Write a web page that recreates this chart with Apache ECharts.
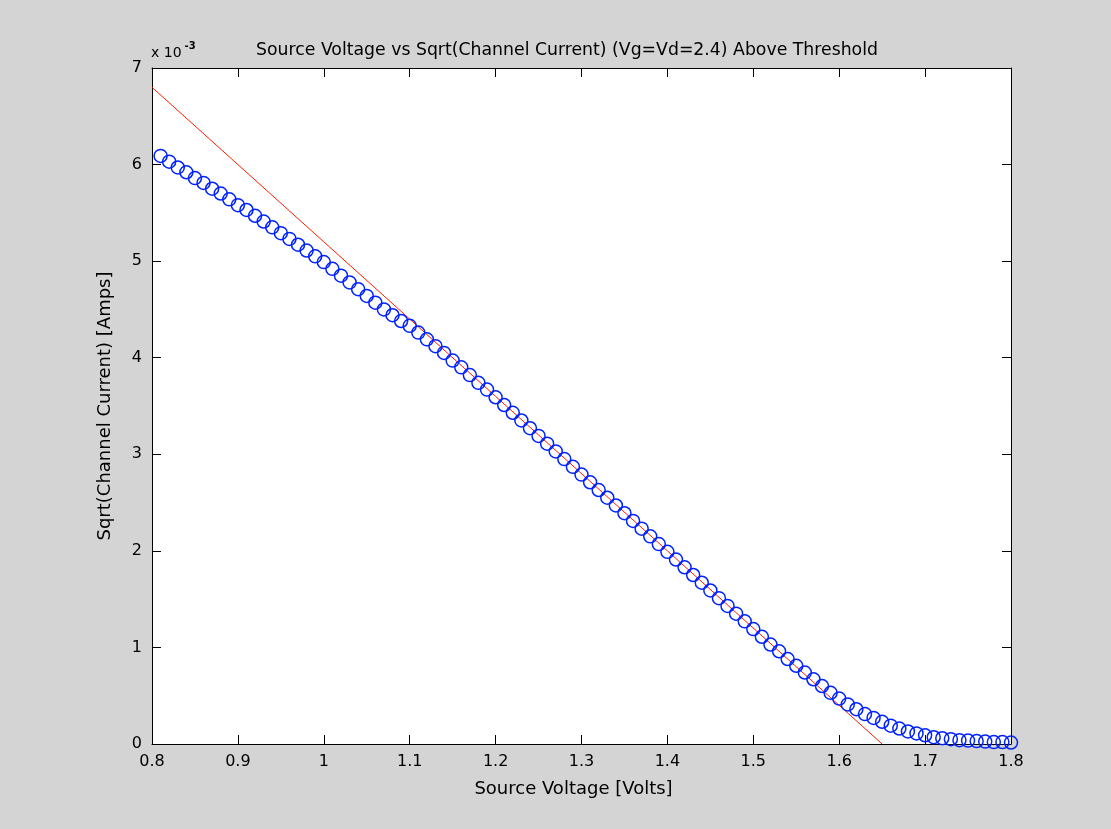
<!DOCTYPE html>
<html>
<head>
<meta charset="utf-8">
<script src="https://cdn.jsdelivr.net/npm/echarts@6/dist/echarts.min.js"></script>
<style>
  html, body { margin: 0; padding: 0; background: #d4d4d4; }
  #chart { width: 1111px; height: 829px; }
</style>
</head>
<body>
<div id="chart"></div>
<script>
// Source voltage (V)
const sourceVoltage = [
  0.81,0.82,0.83,0.84,0.85,0.86,0.87,0.88,0.89,0.90,
  0.91,0.92,0.93,0.94,0.95,0.96,0.97,0.98,0.99,1.00,
  1.01,1.02,1.03,1.04,1.05,1.06,1.07,1.08,1.09,1.10,
  1.11,1.12,1.13,1.14,1.15,1.16,1.17,1.18,1.19,1.20,
  1.21,1.22,1.23,1.24,1.25,1.26,1.27,1.28,1.29,1.30,
  1.31,1.32,1.33,1.34,1.35,1.36,1.37,1.38,1.39,1.40,
  1.41,1.42,1.43,1.44,1.45,1.46,1.47,1.48,1.49,1.50,
  1.51,1.52,1.53,1.54,1.55,1.56,1.57,1.58,1.59,1.60,
  1.61,1.62,1.63,1.64,1.65,1.66,1.67,1.68,1.69,1.70,
  1.71,1.72,1.73,1.74,1.75,1.76,1.77,1.78,1.79,1.80
];
// Sqrt(channel current), in units of 1e-3
const sqrtCurrent = [
  6.09,6.03,5.97,5.92,5.86,5.81,5.75,5.70,5.64,5.58,
  5.53,5.47,5.41,5.35,5.29,5.23,5.17,5.11,5.05,4.99,
  4.92,4.85,4.78,4.71,4.64,4.57,4.50,4.44,4.38,4.33,
  4.26,4.19,4.12,4.05,3.97,3.90,3.82,3.74,3.67,3.59,
  3.51,3.43,3.35,3.27,3.19,3.11,3.03,2.95,2.87,2.79,
  2.71,2.63,2.55,2.47,2.39,2.31,2.23,2.15,2.07,1.99,
  1.91,1.83,1.75,1.67,1.59,1.51,1.43,1.35,1.27,1.19,
  1.11,1.03,0.96,0.88,0.81,0.74,0.67,0.60,0.53,0.47,
  0.41,0.36,0.31,0.27,0.23,0.19,0.16,0.13,0.11,0.09,
  0.07,0.06,0.05,0.04,0.035,0.03,0.025,0.02,0.02,0.015
];
// Linear fit line (units of 1e-3)
const fitVoltage = [0.80, 1.00, 1.20, 1.40, 1.60, 1.65];
const fitCurrent = [6.80, 5.20, 3.60, 2.00, 0.40, 0.00];

const titleText = 'Source Voltage vs Sqrt(Channel Current) (Vg=Vd=2.4) Above Threshold';
const xLabel = 'Source Voltage [Volts]';
const yLabel = 'Sqrt(Channel Current) [Amps]';

const FONT = 'DejaVu Sans';
const GL = 152, GT = 68, GW = 859, GH = 676;

const chart = echarts.init(document.getElementById('chart'), null, { renderer: 'canvas' });

const baseX = { min: 0.8, max: 1.8, interval: 0.1, splitLine: { show: false } };
const baseY = { min: 0, max: 7, interval: 1, splitLine: { show: false } };
const axLine = { show: true, onZero: false, lineStyle: { color: '#000', width: 1 } };
const tick = { show: true, inside: true, length: 9, lineStyle: { color: '#000', width: 1 } };

chart.setOption({
  backgroundColor: '#d4d4d4',
  animation: false,
  title: {
    text: titleText,
    left: 562, top: 37, textAlign: 'center',
    textStyle: { fontFamily: FONT, fontSize: 17.3, fontWeight: 'normal', color: '#000' }
  },
  graphic: [
    { type: 'rect', shape: { x: GL, y: GT, width: GW, height: GH }, style: { fill: '#fff' }, z: -1, silent: true },
    {
      type: 'text', left: 151, top: 41,
      style: {
        text: '{b|x 10}{s|-3}',
        rich: {
          b: { fontFamily: FONT, fontSize: 14, color: '#000', padding: [7, 0, 0, 0] },
          s: { fontFamily: FONT, fontSize: 10, fontWeight: 'bold', color: '#000', padding: [0, 0, 7, 3] }
        }
      }
    }
  ],
  grid: { left: GL, top: GT, width: GW, height: GH, containLabel: false },
  xAxis: [
    Object.assign({}, baseX, {
      type: 'value', position: 'bottom',
      axisLine: axLine, axisTick: tick,
      axisLabel: { fontFamily: FONT, fontSize: 16, color: '#000', margin: 10 },
      name: xLabel, nameLocation: 'middle', nameGap: 36,
      nameTextStyle: { fontFamily: FONT, fontSize: 18, color: '#000', padding: [0, 16, 0, 0] }
    }),
    Object.assign({}, baseX, {
      type: 'value', position: 'top',
      axisLine: axLine, axisTick: tick, axisLabel: { show: false }
    })
  ],
  yAxis: [
    Object.assign({}, baseY, {
      type: 'value', position: 'left',
      axisLine: axLine, axisTick: tick,
      axisLabel: { fontFamily: FONT, fontSize: 16, color: '#000', margin: 10 },
      name: yLabel, nameLocation: 'middle', nameGap: 38, nameRotate: 90,
      nameTextStyle: { fontFamily: FONT, fontSize: 18, color: '#000' }
    }),
    Object.assign({}, baseY, {
      type: 'value', position: 'right',
      axisLine: axLine, axisTick: tick, axisLabel: { show: false }
    })
  ],
  series: [
    {
      type: 'line', xAxisIndex: 0, yAxisIndex: 0,
      data: fitVoltage.map((v, i) => [v, fitCurrent[i]]),
      showSymbol: false, symbol: 'none',
      lineStyle: { color: '#ff1a00', width: 1 },
      z: 2
    },
    {
      type: 'scatter', xAxisIndex: 0, yAxisIndex: 0,
      data: sourceVoltage.map((v, i) => [v, sqrtCurrent[i]]),
      symbol: 'circle', symbolSize: 13,
      itemStyle: { color: 'rgba(0,0,0,0)', borderColor: '#0022ff', borderWidth: 1.5, opacity: 1 },
      z: 3
    }
  ]
});
</script>
</body>
</html>
